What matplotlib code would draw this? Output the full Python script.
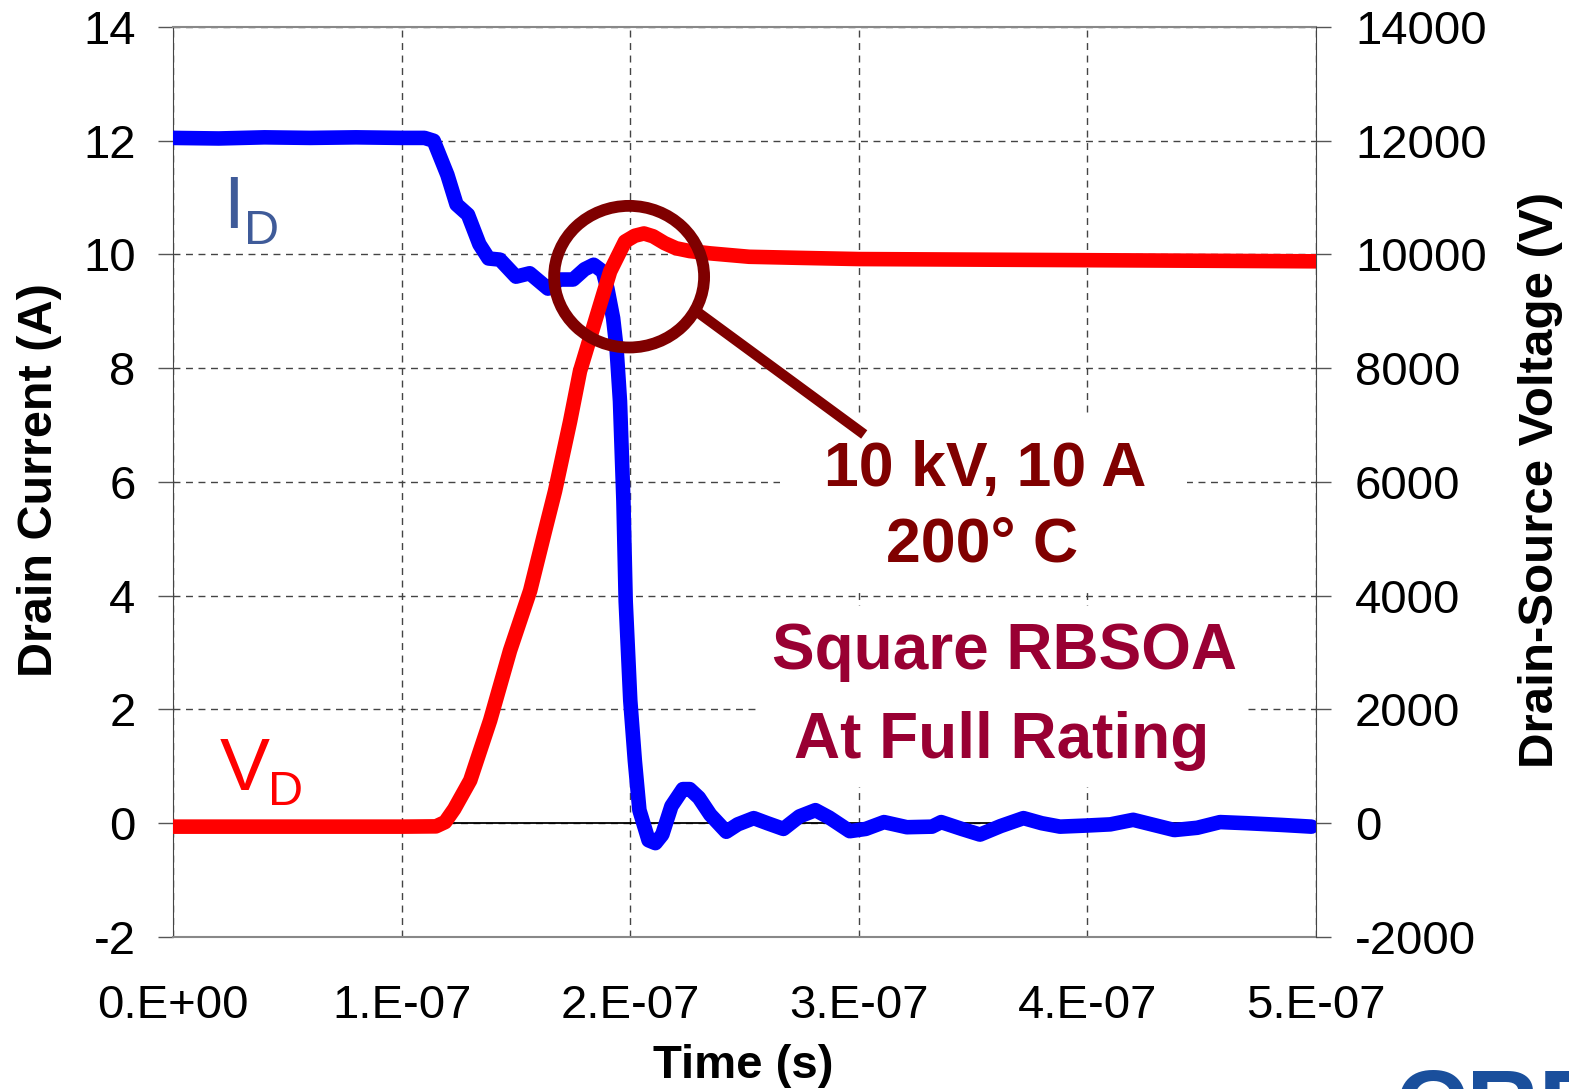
import matplotlib.pyplot as plt
import numpy as np
from matplotlib.patches import Ellipse, Rectangle

plt.rcParams['font.family'] = ['Liberation Sans', 'DejaVu Sans']

## data (time in units of 1E-7 s)
t_current = [0, 0.2, 0.4, 0.6, 0.8, 1.0, 1.1, 1.14, 1.2, 1.24, 1.29, 1.34, 1.38, 1.43,
             1.50, 1.56, 1.64, 1.69, 1.75, 1.80, 1.84, 1.88, 1.90, 1.925, 1.94, 1.955,
             1.97, 1.98, 2.0, 2.02, 2.04, 2.08, 2.11, 2.14, 2.18, 2.23, 2.26, 2.30, 2.35,
             2.42, 2.47, 2.54, 2.60, 2.67, 2.74, 2.81, 2.87, 2.96, 3.03, 3.11, 3.21, 3.32,
             3.36, 3.45, 3.53, 3.62, 3.72, 3.80, 3.88, 4.0, 4.1, 4.2, 4.28, 4.38, 4.48,
             4.58, 4.7, 4.85, 4.98]
drain_current = [12.05, 12.04, 12.06, 12.05, 12.06, 12.05, 12.05, 12.0, 11.4, 10.88, 10.7,
                 10.18, 9.93, 9.91, 9.61, 9.67, 9.40, 9.56, 9.56, 9.74, 9.82, 9.7, 9.4,
                 8.88, 8.35, 7.42, 5.67, 3.9, 2.16, 1.1, 0.23, -0.3, -0.35, -0.2, 0.3, 0.6,
                 0.6, 0.45, 0.15, -0.15, -0.02, 0.09, 0.0, -0.1, 0.12, 0.23, 0.1, -0.14,
                 -0.1, 0.02, -0.07, -0.06, 0.02, -0.1, -0.2, -0.05, 0.09, 0.0, -0.06, -0.04,
                 -0.02, 0.06, -0.02, -0.12, -0.08, 0.02, 0.0, -0.03, -0.06]

t_voltage = [0, 0.5, 1.0, 1.15, 1.19, 1.23, 1.30, 1.387, 1.474, 1.562, 1.627, 1.671, 1.737,
             1.78, 1.846, 1.912, 1.977, 2.02, 2.06, 2.10, 2.15, 2.20, 2.26, 2.35, 2.52,
             2.75, 3.0, 3.5, 4.0, 4.5, 5.0]
drain_voltage = [-60, -60, -60, -55, 20, 250, 754, 1807, 3035, 4088, 5140, 5842, 7070,
                 7947, 8825, 9702, 10228, 10330, 10370, 10320, 10200, 10110, 10060, 10020,
                 9960, 9940, 9920, 9910, 9900, 9890, 9880]

x_ticks = [0, 1, 2, 3, 4, 5]
x_labels = ['0.E+00', '1.E-07', '2.E-07', '3.E-07', '4.E-07', '5.E-07']
y_ticks = [-2, 0, 2, 4, 6, 8, 10, 12, 14]
y2_ticks = [-2000, 0, 2000, 4000, 6000, 8000, 10000, 12000, 14000]

tc = np.array(t_current) * 1e-7
tv = np.array(t_voltage) * 1e-7

fig = plt.figure(figsize=(15.69, 10.89), dpi=100)
ax = fig.add_axes([0.1103, 0.1396, 0.7285, 0.8356])
ax2 = ax.twinx()

ax.set_xlim(0, 5e-7)
ax.set_ylim(-2, 14)
ax2.set_ylim(-2000, 14000)

ax.set_axisbelow(True)
ax.grid(True, linestyle=(0, (5, 4)), color='#444444', lw=1)
ax.axhline(0, color='black', lw=1.3, zorder=0.8)

## curves
ax.plot(tc, drain_current, color='#0000ff', lw=10.5, solid_capstyle='round',
        solid_joinstyle='round', zorder=3)
ax2.plot(tv, drain_voltage, color='#ff0000', lw=10.5, solid_capstyle='round',
         solid_joinstyle='round', zorder=3)

## white boxes behind annotation text
ax.add_patch(Rectangle((2.655e-7, 4.14), 1.781e-7, 3.02, facecolor='white',
                       edgecolor='none', zorder=1))
ax.add_patch(Rectangle((2.568e-7, 0.63), 2.122e-7, 3.19, facecolor='white',
                       edgecolor='none', zorder=1))

## circle + pointer
ax2.add_patch(Ellipse((1.995e-7, 9.61), 0.656e-7, 2.49, fill=False, edgecolor='#7f0000',
                      lw=8.5, transform=ax.transData, zorder=5))
ax2.plot([2.29e-7, 3.005e-7], [9.0, 6.89], color='#7f0000', lw=7.5,
         transform=ax.transData, zorder=5)

ax.text(3.552e-7, 5.93, '10 kV, 10 A', color='#800000', fontsize=45, weight='bold',
        ha='center', va='baseline')
ax.text(3.539e-7, 4.61, '200° C', color='#800000', fontsize=45, weight='bold',
        ha='center', va='baseline')
ax.text(3.635e-7, 2.72, 'Square RBSOA', color='#990033', fontsize=46, weight='bold',
        ha='center', va='baseline')
ax.text(3.626e-7, 1.14, 'At Full Rating', color='#990033', fontsize=46, weight='bold',
        ha='center', va='baseline')

## curve labels
ax.text(0.219e-7, 10.46, 'I', color='#3f5b99', fontsize=54, va='baseline')
ax.text(0.311e-7, 10.18, 'D', color='#3f5b99', fontsize=35, va='baseline')
ax.text(0.206e-7, 0.58, 'V', color='#ff0000', fontsize=54, va='baseline')
ax.text(0.416e-7, 0.32, 'D', color='#ff0000', fontsize=35, va='baseline')

## axes
ax.set_xticks(np.array(x_ticks) * 1e-7)
ax.set_xticklabels(x_labels)
ax.set_yticks(y_ticks)
ax.set_yticklabels([str(v) for v in y_ticks])
ax2.set_yticks(y2_ticks)
ax2.set_yticklabels([str(v) for v in y2_ticks])

ax.tick_params(axis='x', length=0, pad=34, labelsize=34)
ax.tick_params(axis='y', direction='out', length=11, width=1, pad=16, labelsize=34,
               color='#555555')
ax2.tick_params(axis='y', direction='out', length=11, width=1, pad=17, labelsize=34,
                color='#555555')

for s in ['top', 'bottom']:
    ax.spines[s].set_color('#888888')
    ax.spines[s].set_linewidth(1.5)
ax.spines['left'].set_color('#444444')
ax.spines['right'].set_visible(False)
for s in ['top', 'bottom', 'left']:
    ax2.spines[s].set_visible(False)
ax2.spines['right'].set_color('#444444')

ax.set_xlabel('Time (s)', fontsize=34, weight='bold')
ax.set_ylabel('Drain Current (A)', fontsize=35, weight='bold')
ax2.set_ylabel('Drain-Source Voltage (V)', fontsize=35.5, weight='bold')
ax.xaxis.set_label_coords(0.4987, -0.118)
ax.yaxis.set_label_coords(-0.097, 0.502)
ax2.yaxis.set_label_coords(1.177, 0.502)

## partial logo at the bottom right
fig.text(0.889, 0.0202, 'CREE', color='#1a4f9c', fontsize=72, weight='bold',
         va='top', ha='left')

fig.savefig('out.png', dpi=100)
